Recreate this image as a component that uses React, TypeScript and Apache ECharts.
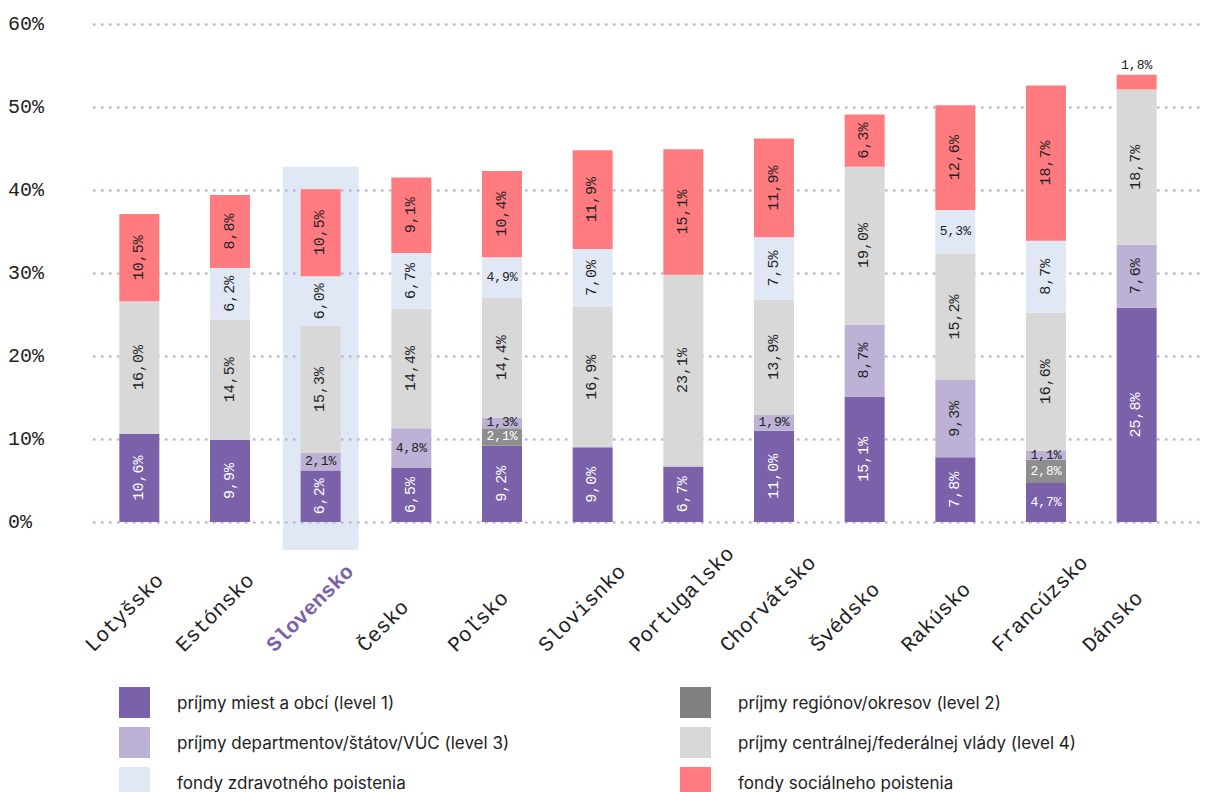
import React, { useEffect, useRef } from "react";
import * as echarts from "echarts";

const countries = [
  "Lotyšsko", "Estónsko", "Slovensko", "Česko", "Poľsko", "Slovisnko",
  "Portugalsko", "Chorvátsko", "Švédsko", "Rakúsko", "Francúzsko", "Dánsko",
];
const level1 = [10.6, 9.9, 6.2, 6.5, 9.2, 9.0, 6.7, 11.0, 15.1, 7.8, 4.7, 25.8];
const level2 = [0, 0, 0, 0, 2.1, 0, 0, 0, 0, 0, 2.8, 0];
const level3 = [0, 0, 2.1, 4.8, 1.3, 0, 0, 1.9, 8.7, 9.3, 1.1, 7.6];
const level4 = [16.0, 14.5, 15.3, 14.4, 14.4, 16.9, 23.1, 13.9, 19.0, 15.2, 16.6, 18.7];
const health = [0, 6.2, 6.0, 6.7, 4.9, 7.0, 0, 7.5, 0, 5.3, 8.7, 0];
const social = [10.5, 8.8, 10.5, 9.1, 10.4, 11.9, 15.1, 11.9, 6.3, 12.6, 18.7, 1.8];
const yTicks = [0, 10, 20, 30, 40, 50, 60];

const HIGHLIGHT = "Slovensko";
const HIGHLIGHT_TOP = 42.8;

const MONO = "'Liberation Mono', 'DejaVu Sans Mono', monospace";
const SANS = "Inter, 'Liberation Sans', Arial, sans-serif";

const seriesDefs = [
  { name: "príjmy miest a obcí (level 1)", data: level1, color: "#7a61a9", legendColor: "#7a61a9", text: "#ffffff" },
  { name: "príjmy regiónov/okresov (level 2)", data: level2, color: "#8e8e8e", legendColor: "#808080", text: "#ffffff" },
  { name: "príjmy departmentov/štátov/VÚC (level 3)", data: level3, color: "#bdb2d6", legendColor: "#bdb2d6", text: "#222222" },
  { name: "príjmy centrálnej/federálnej vlády (level 4)", data: level4, color: "#d8d8d8", legendColor: "#d8d8d8", text: "#222222" },
  { name: "fondy zdravotného poistenia", data: health, color: "#e1e8f5", legendColor: "#e1e8f5", text: "#222222" },
  { name: "fondy sociálneho poistenia", data: social, color: "#ff7b80", legendColor: "#ff7b80", text: "#222222" },
];

const fmt = (v: number) => v.toFixed(1).replace(".", ",") + "%";

function itemLabel(v: number, textColor: string, isTop: boolean) {
  if (!v) return { show: false };
  if (isTop && v < 2.5) {
    return { show: true, position: "top", distance: 3, rotate: 0, color: "#222222", fontSize: 13, fontFamily: MONO };
  }
  if (v < 6) {
    return { show: true, position: "inside", rotate: 0, color: textColor, fontSize: 13, fontFamily: MONO };
  }
  return { show: true, position: "inside", rotate: 90, color: textColor, fontSize: 15, fontFamily: MONO };
}

const legendCommon = {
  orient: "vertical",
  top: 687,
  height: 140,
  padding: 0,
  itemWidth: 31,
  itemHeight: 31,
  itemGap: 9,
  icon: "rect",
  selectedMode: false,
  textStyle: { fontFamily: SANS, fontSize: 17, color: "#222222", padding: [0, 0, 0, 22] },
};

export default function App() {
  const ref = useRef<HTMLDivElement>(null);
  useEffect(() => {
    if (!ref.current) return;
    const chart = echarts.init(ref.current, null, { renderer: "svg" });
    const option: any = {
      animation: false,
      backgroundColor: "#ffffff",
      grid: [
        { left: 94, right: 24, top: 24, bottom: 270 },
        { left: 94, right: 0, top: 24, bottom: 270 },
        { left: 44, right: 74, top: 24, bottom: 143 },
      ],
      xAxis: [
        { type: "category", gridIndex: 0, data: countries, axisLine: { show: false }, axisTick: { show: false }, axisLabel: { show: false } },
        { type: "category", gridIndex: 1, data: countries, show: false },
        {
          type: "category", gridIndex: 2, data: countries,
          axisLine: { show: false }, axisTick: { show: false },
          axisLabel: {
            interval: 0, rotate: 45, align: "left", verticalAlign: "middle", margin: 0,
            fontFamily: MONO, fontSize: 21, color: "#222222",
            formatter: (v: string) => (v === HIGHLIGHT ? "{hl|" + v + "}" : v),
            rich: { hl: { fontFamily: MONO, fontSize: 21, fontWeight: "bold", color: "#7a61a9" } },
          },
        },
      ],
      yAxis: [
        { type: "value", gridIndex: 0, min: 0, max: 60, interval: 10, show: false, splitLine: { show: false } },
        {
          type: "value", gridIndex: 1, min: yTicks[0], max: yTicks[yTicks.length - 1], interval: 10,
          axisLine: { show: false }, axisTick: { show: false },
          axisLabel: { formatter: "{value}%", align: "left", margin: 86, fontFamily: MONO, fontSize: 20, color: "#222222" },
          splitLine: { show: true, lineStyle: { color: "#bfb3dd", width: 2.5, type: [0.5, 7.5], cap: "round" } },
        },
        { type: "value", gridIndex: 2, min: 0, max: 60, show: false, splitLine: { show: false } },
      ],
      legend: [
        {
          ...legendCommon,
          left: 119,
          data: [0, 2, 4].map((i) => ({ name: seriesDefs[i].name, itemStyle: { color: seriesDefs[i].legendColor } })),
        },
        {
          ...legendCommon,
          left: 680,
          data: [1, 3, 5].map((i) => ({ name: seriesDefs[i].name, itemStyle: { color: seriesDefs[i].legendColor } })),
        },
      ],
      series: seriesDefs.map((s, si) => ({
        name: s.name,
        type: "bar",
        stack: "total",
        xAxisIndex: 0,
        yAxisIndex: 0,
        barWidth: 40,
        itemStyle: { color: s.color },
        data: s.data.map((v) => ({
          value: v,
          label: { ...itemLabel(v, s.text, si === seriesDefs.length - 1), formatter: (p: any) => fmt(p.value) },
        })),
      })),
    };
    chart.setOption(option);
    const cx = chart.convertToPixel({ xAxisIndex: 0 } as any, HIGHLIGHT) as unknown as number;
    const yTop = chart.convertToPixel({ yAxisIndex: 0 } as any, HIGHLIGHT_TOP) as unknown as number;
    const y0 = chart.convertToPixel({ yAxisIndex: 0 } as any, 0) as unknown as number;
    chart.setOption({
      graphic: [
        {
          type: "rect", z: -10, silent: true,
          shape: { x: cx - 38, y: yTop, width: 76, height: y0 + 28 - yTop },
          style: { fill: "#e1e8f5" },
        },
      ],
    });
    return () => chart.dispose();
  }, []);
  return <div ref={ref} style={{ position: "fixed", left: 0, top: 0, width: 1206, height: 792 }} />;
}
